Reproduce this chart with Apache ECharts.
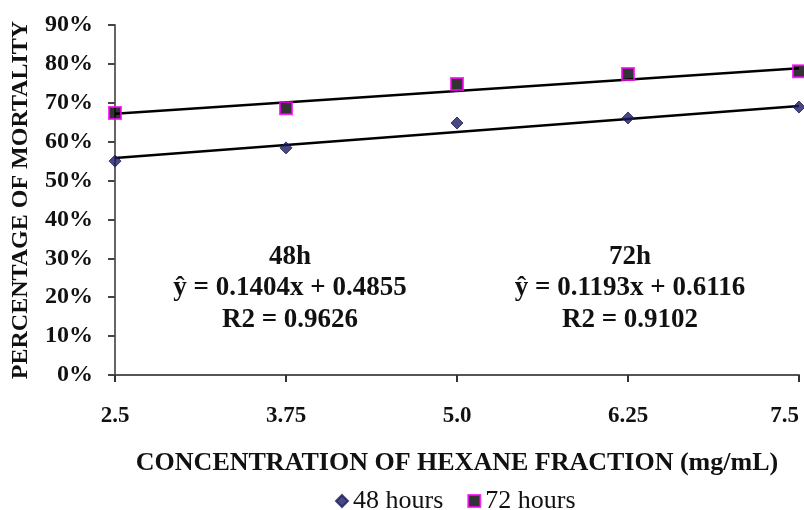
<!DOCTYPE html>
<html>
<head>
<meta charset="utf-8">
<script src="https://cdn.jsdelivr.net/npm/echarts@6/dist/echarts.min.js"></script>
<style>html,body{margin:0;padding:0;background:#fff;}#c{width:804px;height:510px;}</style>
</head>
<body>
<div id="c"></div>
<script>
const concentrations = [2.5, 3.75, 5.0, 6.25, 7.5];
const xTickLabels = ['2.5', '3.75', '5.0', '6.25', '7.5'];
const mortality48 = [55.0, 58.4, 64.8, 66.1, 68.9];
const mortality72 = [67.4, 68.6, 74.8, 77.4, 78.1];
const trendX = [2.5, 7.5];
const trend48 = [55.8, 69.2];
const trend72 = [67.2, 78.9];
const seriesNames = ['48 hours', '72 hours'];
const annot48 = ['48h', 'ŷ = 0.1404x + 0.4855', 'R2 = 0.9626'];
const annot72 = ['72h', 'ŷ = 0.1193x + 0.6116', 'R2 = 0.9102'];

const FONT = "'Liberation Serif', 'Times New Roman', serif";
const pairs = (xs, ys) => xs.map((x, i) => [x, ys[i]]);

const chart = echarts.init(document.getElementById('c'), null, {renderer: 'canvas'});

function annot(lines, cx) {
  const ys = [257, 288, 320];
  return lines.map((t, i) => ({
    type: 'text',
    x: cx, y: ys[i],
    style: {text: t, x: 0, y: 0, align: 'center', verticalAlign: 'middle',
            font: 'bold 27px ' + FONT, fill: '#111'}
  }));
}

chart.setOption({
  animation: false,
  backgroundColor: '#fff',
  grid: {left: 115, right: 5, top: 25, bottom: 135, containLabel: false, outerBoundsMode: 'none'},
  xAxis: {
    type: 'value', min: 2.5, max: 7.5, interval: 1.25,
    name: 'CONCENTRATION OF HEXANE FRACTION (mg/mL)',
    nameLocation: 'middle', nameGap: 75,
    nameTextStyle: {fontFamily: FONT, fontWeight: 'bold', fontSize: 26, color: '#111'},
    axisLine: {lineStyle: {color: '#555', width: 2}},
    axisTick: {show: true, length: 7, lineStyle: {color: '#333', width: 2}},
    axisLabel: {margin: 30, fontFamily: FONT, fontWeight: 'bold', fontSize: 23, color: '#111',
      alignMaxLabel: 'right',
      formatter: v => { const i = concentrations.findIndex(c => Math.abs(c - v) < 1e-6); return i >= 0 ? xTickLabels[i] : ''; }},
    splitLine: {show: false}
  },
  yAxis: {
    type: 'value', min: 0, max: 90, interval: 10,
    name: 'PERCENTAGE OF MORTALITY',
    nameLocation: 'middle', nameGap: 82, nameRotate: 90,
    nameTextStyle: {fontFamily: FONT, fontWeight: 'bold', fontSize: 24, color: '#111'},
    axisLine: {show: true, lineStyle: {color: '#666', width: 2}},
    axisTick: {show: true, length: 7, lineStyle: {color: '#444', width: 2}},
    axisLabel: {margin: 22, fontFamily: FONT, fontWeight: 'bold', fontSize: 24, color: '#111', formatter: '{value}%'},
    splitLine: {show: false}
  },
  legend: {
    bottom: -9, left: 330, itemGap: 24, itemWidth: 12, itemHeight: 12,
    textStyle: {fontFamily: FONT, fontSize: 26, color: '#111'},
    data: seriesNames
  },
  series: [
    {name: seriesNames[0], type: 'scatter', data: pairs(concentrations, mortality48),
     symbol: 'diamond', symbolSize: 12, clip: false,
     itemStyle: {color: '#1c1c60', borderColor: '#1c1c60', borderWidth: 1}, z: 3},
    {name: seriesNames[1], type: 'scatter', data: pairs(concentrations, mortality72),
     symbol: 'rect', symbolSize: 12, clip: false,
     itemStyle: {color: '#000', borderColor: '#ff00ff', borderWidth: 2}, z: 3},
    {name: 'trend48', type: 'line', data: pairs(trendX, trend48), showSymbol: false, symbol: 'none',
     lineStyle: {color: '#000', width: 2.5}, z: 2, silent: true},
    {name: 'trend72', type: 'line', data: pairs(trendX, trend72), showSymbol: false, symbol: 'none',
     lineStyle: {color: '#000', width: 2.5}, z: 2, silent: true}
  ],
  graphic: annot(annot48, 290).concat(annot(annot72, 630))
});
</script>
</body>
</html>
